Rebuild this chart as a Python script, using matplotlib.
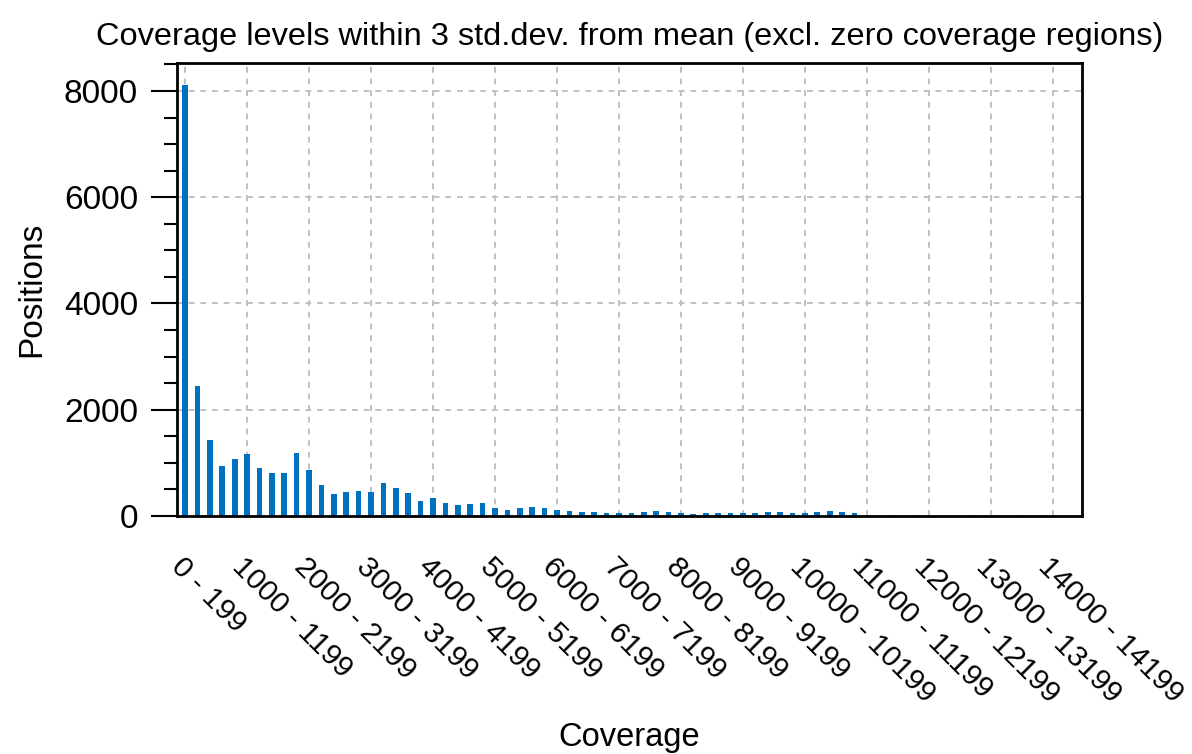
import numpy as np
import matplotlib
matplotlib.use("Agg")
import matplotlib.pyplot as plt
from matplotlib.ticker import MultipleLocator

plt.rcParams['font.family'] = ['Liberation Sans', 'DejaVu Sans']

# Coverage bins of width 200 (bin i covers i*200 .. i*200+199)
n_bins = 73
bin_starts = [i * 200 for i in range(n_bins)]

positions = [8120, 2443, 1425, 936, 1067, 1174, 910, 816, 804, 1187,
             873, 578, 408, 458, 465, 450, 618, 536, 442, 284,
             334, 240, 215, 227, 246, 151, 107, 145, 164, 158,
             114, 95, 76, 76, 66, 63, 63, 69, 88, 69,
             50, 44, 50, 50, 50, 50, 63, 82, 69, 50,
             56, 69, 94, 82, 50]

tick_labels = ["0 - 199", "1000 - 1199", "2000 - 2199", "3000 - 3199",
               "4000 - 4199", "5000 - 5199", "6000 - 6199", "7000 - 7199",
               "8000 - 8199", "9000 - 9199", "10000 - 10199", "11000 - 11199",
               "12000 - 12199", "13000 - 13199", "14000 - 14199"]
tick_idx = [bin_starts.index(int(l.split(" - ")[0])) for l in tick_labels]

fig = plt.figure(figsize=(11.92, 7.54), dpi=100)
ax = fig.add_axes([0.1485, 0.3156, 0.7592, 0.6008])

x = np.arange(len(positions))
ax.bar(x, positions, width=0.46, color='#0072BD', zorder=3)

ax.set_xlim(-0.65, 72.35)
ax.set_ylim(0, 8525)

ax.set_xticks(tick_idx)
ax.set_xticklabels(tick_labels, rotation=-45, ha='left', va='top',
                   rotation_mode='anchor', fontsize=21.5)
ax.yaxis.set_major_locator(MultipleLocator(2000))
ax.yaxis.set_minor_locator(MultipleLocator(500))
ax.tick_params(axis='y', which='major', direction='out', length=19, width=1.5,
               labelsize=24, pad=9)
ax.tick_params(axis='y', which='minor', direction='out', length=9.5, width=1.5)
ax.tick_params(axis='x', which='both', length=0, pad=26)

ax.grid(True, which='major', color='#c0c0c0', linestyle=(0, (3, 3)),
        linewidth=1.4, zorder=0)
ax.set_axisbelow(True)

for s in ax.spines.values():
    s.set_linewidth(2.0)
    s.set_color('black')
    s.set_zorder(4)

ax.set_title("Coverage levels within 3 std.dev. from mean (excl. zero coverage regions)",
             fontsize=23.4, pad=13)
ax.set_ylabel("Positions", fontsize=24, labelpad=12)
ax.set_xlabel("Coverage", fontsize=23.5, labelpad=10)

fig.savefig("out.png", dpi=100)
